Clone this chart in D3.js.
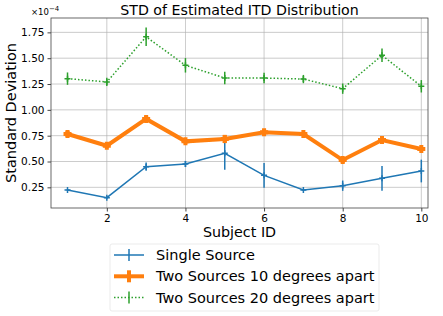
<!DOCTYPE html>
<html>
<head>
<meta charset="utf-8">
<script src="https://cdn.jsdelivr.net/npm/d3@7"></script>
<style>
  body { margin: 0; background: #fff; }
  text { font-family: "DejaVu Sans", sans-serif; }
</style>
</head>
<body>
<script>
// values in units of 1e-4
var subjects = [1, 2, 3, 4, 5, 6, 7, 8, 9, 10];
var single = [0.224, 0.15, 0.45, 0.476, 0.58, 0.366, 0.224, 0.266, 0.337, 0.408];
var singleErr = [0.01, 0.01, 0.04, 0.03, 0.16, 0.12, 0.01, 0.05, 0.12, 0.11];
var tenDeg = [0.766, 0.653, 0.912, 0.695, 0.718, 0.782, 0.766, 0.514, 0.708, 0.621];
var tenDegErr = [0.03, 0.02, 0.03, 0.02, 0.04, 0.03, 0.02, 0.03, 0.03, 0.02];
var twentyDeg = [1.302, 1.27, 1.707, 1.431, 1.308, 1.308, 1.298, 1.205, 1.528, 1.228];
var twentyDegErr = [0.06, 0.04, 0.09, 0.07, 0.06, 0.05, 0.04, 0.05, 0.065, 0.06];
var xTicks = [2, 4, 6, 8, 10];
var yTicks = [0.25, 0.5, 0.75, 1.0, 1.25, 1.5, 1.75];

var W = 443, H = 316;
var pLeft = 51, pRight = 428, pTop = 18, pBottom = 208;

var svg = d3.select("body").append("svg").attr("width", W).attr("height", H);

var x = d3.scaleLinear().domain([0.58, 10.17]).range([pLeft, pRight]);
var y = d3.scaleLinear().domain([0.05, 1.889]).range([pBottom, pTop]);

// grid
svg.append("g").selectAll("line").data(xTicks).enter().append("line")
    .attr("x1", d => x(d)).attr("x2", d => x(d))
    .attr("y1", pTop).attr("y2", pBottom)
    .attr("stroke", "#b0b0b0").attr("stroke-width", 0.8).attr("opacity", 0.8);
svg.append("g").selectAll("line").data(yTicks).enter().append("line")
    .attr("x1", pLeft).attr("x2", pRight)
    .attr("y1", d => y(d)).attr("y2", d => y(d))
    .attr("stroke", "#b0b0b0").attr("stroke-width", 0.8).attr("opacity", 0.8);

// axes
var xAxis = svg.append("g").attr("transform", "translate(0," + pBottom + ")")
    .call(d3.axisBottom(x).tickValues(xTicks).tickSize(3.5).tickPadding(3).tickFormat(d3.format("d")));
var yAxis = svg.append("g").attr("transform", "translate(" + pLeft + ",0)")
    .call(d3.axisLeft(y).tickValues(yTicks).tickSize(3.5).tickPadding(3).tickFormat(d3.format(".2f")));
[xAxis, yAxis].forEach(function (a) {
    a.select(".domain").remove();
    a.selectAll("text").attr("font-size", 10.5).attr("fill", "#000")
        .style("font-family", "DejaVu Sans, sans-serif");
    a.selectAll("line").attr("stroke", "#444");
});

// frame
svg.append("rect").attr("x", pLeft).attr("y", pTop)
    .attr("width", pRight - pLeft).attr("height", pBottom - pTop)
    .attr("fill", "none").attr("stroke", "#444").attr("stroke-width", 0.8);

var series = [
    {name: "Single Source", vals: single, err: singleErr, color: "#1f77b4", lw: 1.5, dash: null, ms: 3},
    {name: "Two Sources 10 degrees apart", vals: tenDeg, err: tenDegErr, color: "#ff7f0e", lw: 4, dash: null, ms: 4},
    {name: "Two Sources 20 degrees apart", vals: twentyDeg, err: twentyDegErr, color: "#2ca02c", lw: 1.5, dash: "1.5,2", ms: 3}
];

var line = d3.line().x(d => x(d[0])).y(d => y(d[1]));

series.forEach(function (s) {
    var g = svg.append("g");
    var pts = subjects.map((d, i) => [d, s.vals[i], s.err[i]]);
    g.append("path").attr("d", line(pts))
        .attr("fill", "none").attr("stroke", s.color)
        .attr("stroke-width", s.lw)
        .attr("stroke-dasharray", s.dash);
    g.selectAll(".eb").data(pts).enter().append("line")
        .attr("x1", d => x(d[0])).attr("x2", d => x(d[0]))
        .attr("y1", d => y(d[1] - d[2])).attr("y2", d => y(d[1] + d[2]))
        .attr("stroke", s.color).attr("stroke-width", s.lw);
    g.selectAll(".mk").data(pts).enter().append("path")
        .attr("d", d => "M" + (x(d[0]) - s.ms) + "," + y(d[1]) + "h" + (2 * s.ms) +
            "M" + x(d[0]) + "," + (y(d[1]) - s.ms) + "v" + (2 * s.ms))
        .attr("stroke", s.color).attr("stroke-width", s.lw);
});

// texts
svg.append("text").attr("x", (pLeft + pRight) / 2).attr("y", 15)
    .attr("text-anchor", "middle").attr("font-size", 14.2).text("STD of Estimated ITD Distribution");
svg.append("text").attr("x", (pLeft + pRight) / 2).attr("y", 236.5)
    .attr("text-anchor", "middle").attr("font-size", 14.3).text("Subject ID");
svg.append("text").attr("transform", "translate(16," + ((pTop + pBottom) / 2) + ") rotate(-90)")
    .attr("text-anchor", "middle").attr("font-size", 14.5).text("Standard Deviation");
var mult = svg.append("text").attr("x", 31).attr("y", 15).attr("font-size", 8.5);
mult.append("tspan").text("\u00d710");
mult.append("tspan").attr("dy", -4).attr("font-size", 7).text("\u22124");

// legend
var lg = svg.append("g");
lg.append("rect").attr("x", 110).attr("y", 244).attr("width", 269).attr("height", 67)
    .attr("rx", 2).attr("fill", "#fff").attr("stroke", "#e6e6e6").attr("stroke-width", 0.8);
series.forEach(function (s, i) {
    var cy = 255 + i * 21.3;
    lg.append("line").attr("x1", 114).attr("x2", 144).attr("y1", cy).attr("y2", cy)
        .attr("stroke", s.color).attr("stroke-width", s.lw).attr("stroke-dasharray", s.dash);
    lg.append("line").attr("x1", 129).attr("x2", 129).attr("y1", cy - 6).attr("y2", cy + 6)
        .attr("stroke", s.color).attr("stroke-width", s.lw);
    lg.append("text").attr("x", 156).attr("y", cy + 5).attr("font-size", 14.5).text(s.name);
});
</script>
</body>
</html>
